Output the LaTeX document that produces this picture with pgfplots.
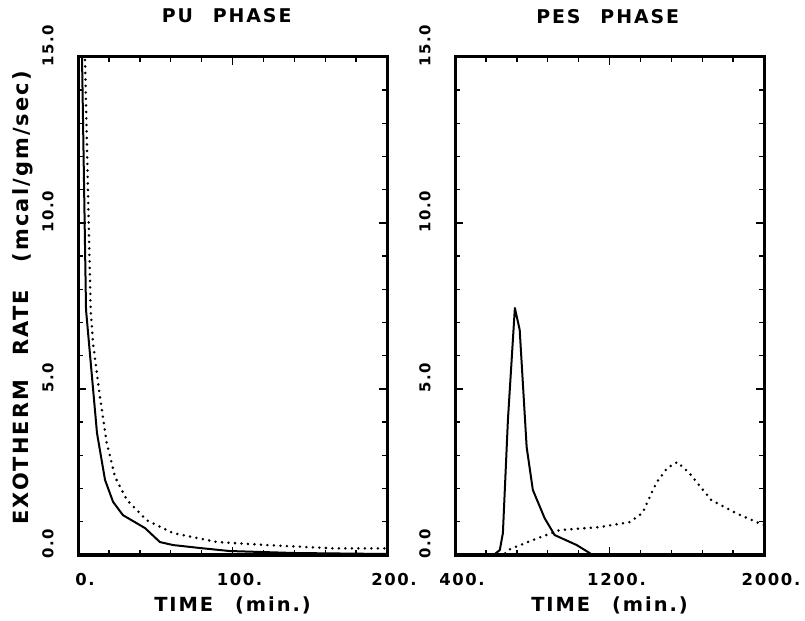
\documentclass[border=0pt]{standalone}
\usepackage{fontspec}
\setmainfont{DejaVu Sans}[LetterSpace=10]
\usepackage{pgfplots}
\pgfplotsset{compat=1.18}

\pgfplotstableread{
x y
0.4 20
2.6 15.0
5.2 7.38
12.3 3.67
17.5 2.26
22.7 1.60
29.1 1.20
43.4 0.81
53 0.39
61.5 0.30
79 0.21
98 0.12
140 0.06
200 0.03
}\pusolid
\pgfplotstableread{
x y
2.0 20
4.5 15.0
8.2 7.38
9.7 6.39
14.2 4.76
18.6 3.37
24 2.35
31.6 1.66
44.4 1.05
61.5 0.66
90 0.39
122 0.30
165 0.20
200 0.20
}\pudot
\pgfplotstableread{
x y
600 0
632 0.15
648 0.66
674 4.07
710 7.44
735 6.78
771 3.25
803 1.96
864 1.11
916 0.60
1030 0.30
1097 0.06
1110 0
}\pessolid
\pgfplotstableread{
x y
660 0.05
674 0.15
803 0.45
942 0.75
1148 0.84
1303 0.99
1370 1.26
1442 2.17
1499 2.62
1551 2.80
1613 2.47
1726 1.66
1855 1.26
1974 0.96
2000 0.90
}\pesdot

\pgfplotsset{
  panel/.style={
    scale only axis, width=309bp, height=498bp,
    ymin=0, ymax=15,
    ytick={0,5,10,15}, yticklabels={0.0,5.0,10.0,15.0},
    minor ytick={1,2,3,4,6,7,8,9,11,12,13,14},
    tick align=inside,
    major tick length=8bp, minor tick length=5bp,
    axis line style={line width=3bp},
    tick style={black, line width=1.4bp},
    xticklabel pos=left, yticklabel pos=left,
    xtick pos=both, ytick pos=both,
    xticklabel style={font=\bfseries\fontsize{16.5}{18}\selectfont, anchor=center, yshift=-25bp, xshift=7bp},
    yticklabel style={font=\bfseries\fontsize{15}{16}\selectfont, xshift=-30bp, yshift=11bp, rotate=90, anchor=center},
    title style={font=\bfseries\fontsize{19}{22}\selectfont, anchor=center},
    xlabel style={font=\bfseries\fontsize{19.5}{22}\selectfont, at={(axis description cs:0.5,-0.1004)}, anchor=center},
    ylabel style={font=\bfseries\fontsize{21}{24}\selectfont, anchor=center},
  },
  solidline/.style={black, line width=2bp, line join=round},
  dotline/.style={black, line width=2.8bp, line cap=round, dash pattern=on 0pt off 6.5bp},
}

\begin{document}
\begin{tikzpicture}
\useasboundingbox (0,0) rectangle (805bp,621bp);
\begin{axis}[panel, at={(78bp,66bp)}, anchor=south west,
  xmin=0, xmax=200, xtick={0,100,200}, xticklabels={0.,100.,200.},
  minor xtick={20,40,60,80,120,140,160,180},
  title={PU\hspace{20bp}PHASE}, title style={at={(axis description cs:0.481,1.072)}},
  xlabel={TIME\hspace{22bp}(min.)},
  ylabel={EXOTHERM\hspace{24bp}RATE\hspace{28bp}(mcal/gm/sec)},
  ylabel style={at={(axis description cs:-0.178,0.516)}},
]
\addplot[solidline] table[x=x,y=y] {\pusolid};
\addplot[dotline] table[x=x,y=y] {\pudot};
\end{axis}
\begin{axis}[panel, at={(455bp,66bp)}, anchor=south west,
  xmin=400, xmax=2000, xtick={400,1200,2000}, xticklabels={400.,1200.,2000.},
  minor xtick={560,720,880,1040,1360,1520,1680,1840},
  title={PES\hspace{20bp}PHASE}, title style={at={(axis description cs:0.494,1.07)}},
  xlabel={TIME\hspace{22bp}(min.)},
]
\addplot[solidline] table[x=x,y=y] {\pessolid};
\addplot[dotline] table[x=x,y=y] {\pesdot};
\end{axis}
\end{tikzpicture}
\end{document}
